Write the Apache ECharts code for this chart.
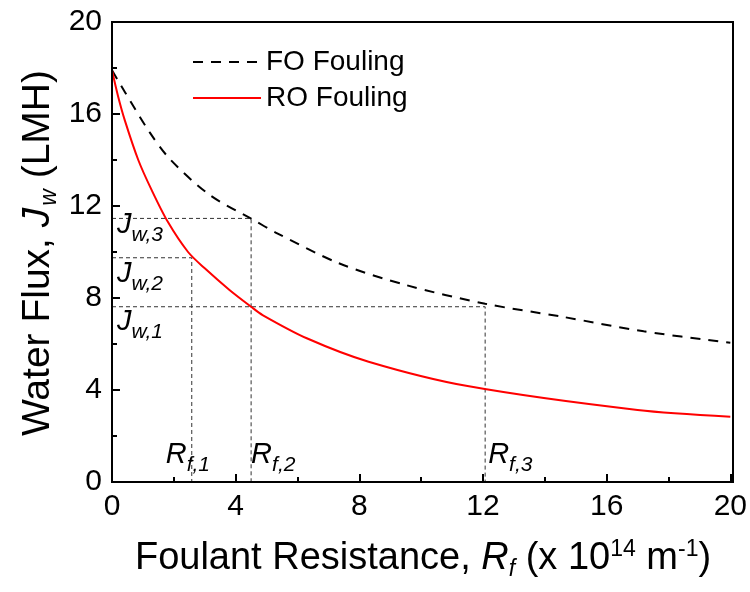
<!DOCTYPE html>
<html>
<head>
<meta charset="utf-8">
<script src="https://cdn.jsdelivr.net/npm/echarts@6/dist/echarts.min.js"></script>
<style>
  html, body { margin: 0; padding: 0; background: #fff; }
  #wrap { position: relative; width: 750px; height: 592px; }
  #chart, #frame { position: absolute; left: 0; top: 0; width: 750px; height: 592px; }
  #frame { pointer-events: none; }
</style>
</head>
<body>
<div id="wrap">
  <div id="chart"></div>
  <div id="frame"></div>
</div>
<script>
// Water flux vs. foulant resistance for FO and RO fouling modes
var xTicks = [0, 4, 8, 12, 16, 20];
var yTicks = [0, 4, 8, 12, 16, 20];

// FO fouling curve (Rf in 1e14 m^-1, Jw in LMH)
var foRf = [0, 0.42, 1.22, 1.9, 3.16, 4.5, 5.36, 7.34, 9.49, 12.07, 14.54, 17.2, 20];
var foJw = [17.9, 16.95, 15.2, 14.0, 12.48, 11.45, 10.8, 9.51, 8.57, 7.75, 7.19, 6.55, 6.05];

// RO fouling curve
var roRf = [0, 0.2, 0.42, 0.85, 1.28, 1.81, 2.46, 3.0, 3.8, 4.5, 4.87, 6.3, 8.3, 11.5, 17.0, 20];
var roJw = [17.9, 16.75, 15.7, 14.0, 12.7, 11.3, 10.0, 9.29, 8.35, 7.62, 7.26, 6.25, 5.23, 4.17, 3.13, 2.84];

// Reference flux levels and resistances
var jwLevels = [7.62, 9.75, 11.46];     // Jw,1  Jw,2  Jw,3
var rfLevels = [2.58, 4.5, 12.07];      // Rf,1  Rf,2  Rf,3
var jwNames = ['w,1', 'w,2', 'w,3'];
var rfNames = ['f,1', 'f,2', 'f,3'];
// pairs: [flux index, resistance index] joined by an L-shaped guide
var guidePairs = [[2, 1], [1, 0], [0, 2]];

function zip(xs, ys) { return xs.map(function (x, i) { return [x, ys[i]]; }); }

var FONT = '"Liberation Sans", Arial, sans-serif';
var GRID = { left: 112, right: 17, top: 22, bottom: 110 };

// text width helper for composing sub/superscripts from plain text pieces
var mctx = document.createElement('canvas').getContext('2d');
function textW(str, size, italic) {
  mctx.font = (italic ? 'italic ' : '') + size + 'px ' + FONT;
  return mctx.measureText(str).width;
}

function axisBase() {
  return {
    type: 'value', min: 0, max: 20, interval: 4,
    axisLine: { show: true, onZero: false, lineStyle: { color: '#000', width: 2 } },
    axisTick: { show: true, inside: true, length: 8, lineStyle: { color: '#000', width: 2 } },
    minorTick: { show: true, splitNumber: 2, length: 5, lineStyle: { color: '#000', width: 2 } },
    splitLine: { show: false },
    minorSplitLine: { show: false }
  };
}
var tickFont = { fontFamily: FONT, fontSize: 30, color: '#000' };

/* ---------- main chart: curves, guides, legend, tick labels, titles ---------- */
var chart = echarts.init(document.getElementById('chart'));

var guideSeries = guidePairs.map(function (p, i) {
  var jw = jwLevels[p[0]], rf = rfLevels[p[1]];
  return {
    name: 'guide' + i, type: 'line',
    data: [[0, jw], [rf, jw], [rf, 0]],
    symbol: 'none', silent: true, z: 1,
    lineStyle: { color: '#333', width: 1, type: [4, 3] }
  };
});

chart.setOption({
  animation: false,
  grid: Object.assign({ show: false }, GRID),
  legend: {
    data: ['FO Fouling', 'RO Fouling'],
    orient: 'vertical', left: 187, top: 42,
    itemWidth: 68, itemHeight: 14, itemGap: 6,
    selectedMode: false,
    itemStyle: { opacity: 0 },
    textStyle: { fontFamily: FONT, fontSize: 28, color: '#000', lineHeight: 30 }
  },
  xAxis: Object.assign(axisBase(), {
    position: 'bottom',
    axisLabel: Object.assign({ show: true, margin: 10,
      formatter: function (v) { return xTicks.indexOf(v) >= 0 ? String(v) : ''; } }, tickFont)
  }),
  yAxis: Object.assign(axisBase(), {
    position: 'left',
    axisLabel: Object.assign({ show: true, margin: 10,
      formatter: function (v) { return yTicks.indexOf(v) >= 0 ? String(v) : ''; } }, tickFont)
  }),
  series: guideSeries.concat([
    {
      name: 'FO Fouling', type: 'line', data: zip(foRf, foJw),
      symbol: 'none', smooth: 0.3, z: 3,
      itemStyle: { color: '#000' },
      lineStyle: { color: '#000', width: 2, type: [10, 8] }
    },
    {
      name: 'RO Fouling', type: 'line', data: zip(roRf, roJw),
      symbol: 'none', smooth: 0.3, z: 4,
      itemStyle: { color: '#ff0000' },
      lineStyle: { color: '#ff0000', width: 2 }
    }
  ])
});

/* ---------- text: annotations at guide levels + axis titles ---------- */
function px(pt) { return chart.convertToPixel({ gridIndex: 0 }, pt); }
function plainText(x, y, str, size, italic) {
  return {
    type: 'text', x: x, y: y, silent: true, z: 10,
    style: { text: str, fontFamily: FONT, fontSize: size, fontStyle: italic ? 'italic' : 'normal',
             fill: '#000', align: 'left', verticalAlign: 'middle' }
  };
}
var MAIN = 29, SUB = 21;
var jwDy = [15, 16, 7];
var rfDx = [-26, 0, 3];
var texts = [];
jwLevels.forEach(function (jw, i) {
  var p = px([0, jw]);
  var w = textW('J', MAIN, true);
  texts.push(plainText(p[0] + 5, p[1] + jwDy[i], 'J', MAIN, true));
  texts.push(plainText(p[0] + 5 + w, p[1] + jwDy[i] + 10, jwNames[i], SUB, true));
});
rfLevels.forEach(function (rf, i) {
  var p = px([rf, 0]);
  var w = textW('R', MAIN, true);
  texts.push(plainText(p[0] + rfDx[i], p[1] - 27, 'R', MAIN, true));
  texts.push(plainText(p[0] + rfDx[i] + w, p[1] - 17, rfNames[i], SUB, true));
});

// Axis titles assembled from pieces: [text, size, italic, baseline shift, lead gap]
function titlePieces(pieces, baseY) {
  var total = 0;
  pieces.forEach(function (p) { total += textW(p[0], p[1], p[2]) + (p[4] || 0); });
  var x = -total / 2, out = [];
  pieces.forEach(function (p) {
    x += (p[4] || 0);
    out.push(plainText(x, baseY + p[3] - 0.31 * p[1], p[0], p[1], p[2]));
    x += textW(p[0], p[1], p[2]);
  });
  return out;
}
var xTitle = titlePieces([
  ['Foulant Resistance, ', 38, false, 0],
  ['R', 38, true, 0],
  ['f', 23, true, 7],
  [' (x 10', 38, false, 0],
  ['14', 23, false, -13],
  [' m', 38, false, 0],
  ['-1', 23, false, -13],
  [')', 38, false, 0]
], 0);
var yTitle = titlePieces([
  ['Water Flux, ', 39, false, 0],
  ['J', 39, true, 0],
  ['w', 23, true, 7, 2],
  [' (LMH)', 39, false, 0]
], 12);

chart.setOption({
  graphic: texts.concat([
    { type: 'group', x: 423, y: 570, silent: true, children: xTitle },
    { type: 'group', x: 38, y: 253, rotation: Math.PI / 2, silent: true, children: yTitle }
  ])
});

/* ---------- frame layer: box border with inward ticks on all four sides ---------- */
var frame = echarts.init(document.getElementById('frame'));
frame.setOption({
  animation: false,
  grid: Object.assign({ show: true, borderColor: '#000', borderWidth: 2 }, GRID),
  xAxis: [
    Object.assign(axisBase(), { position: 'bottom', axisLabel: { show: false } }),
    Object.assign(axisBase(), { position: 'top', axisLabel: { show: false } })
  ],
  yAxis: [
    Object.assign(axisBase(), { position: 'left', axisLabel: { show: false } }),
    Object.assign(axisBase(), { position: 'right', axisLabel: { show: false } })
  ],
  series: [
    { type: 'line', data: zip(roRf, roJw), xAxisIndex: 0, yAxisIndex: 0,
      symbol: 'none', silent: true, lineStyle: { opacity: 0 } },
    { type: 'line', data: zip(foRf, foJw), xAxisIndex: 1, yAxisIndex: 1,
      symbol: 'none', silent: true, lineStyle: { opacity: 0 } }
  ]
});
</script>
</body>
</html>
